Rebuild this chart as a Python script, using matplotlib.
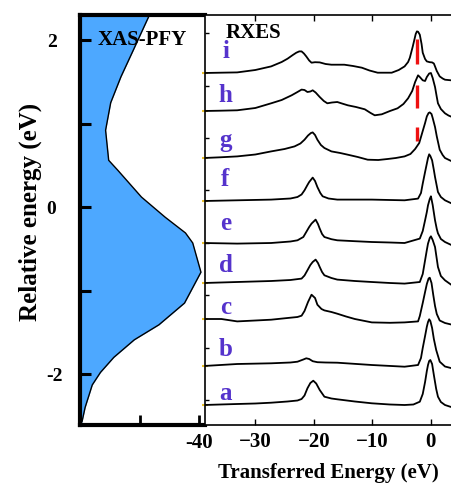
import numpy as np
import matplotlib
matplotlib.use("Agg")
import matplotlib.pyplot as plt
from matplotlib.ticker import FixedLocator, NullFormatter

plt.rcParams['font.family'] = ['Liberation Serif', 'DejaVu Serif']
plt.rcParams['font.weight'] = 'bold'

# ---- XAS-PFY profile (relative energy in eV vs. normalised yield) ----
pfy_energy = [2.40, 2.30, 2.28, 1.88, 1.56, 1.25, 0.92, 0.56, 0.44, 0.12, -0.12,
              -0.31, -0.43, -0.78, -1.15, -1.41, -1.59, -1.80, -1.98, -2.13,
              -2.40, -2.57, -2.61]
pfy_yield = [0.62, 0.577, 0.577, 0.448, 0.344, 0.258, 0.215, 0.241, 0.318, 0.516,
             0.714, 0.886, 0.947, 1.016, 0.878, 0.663, 0.456, 0.284, 0.172,
             0.103, 0.043, 0.017, 0.0]

# ---- RXES spectra (transferred energy in eV, intensity in a.u.) ----
e_a = [-38.8, -36, -33.1, -30, -27.3, -24.5, -22.8, -22.1, -21.6, -21.1, -20.6,
       -20.1, -19.6, -19.0, -18.2, -17.0, -16.0, -13, -10.1, -7, -4.5, -3, -1.9,
       -1.4, -1.0, -0.7, -0.5, -0.3, -0.1, 0.2, 0.5, 0.9, 1.2, 1.7, 2.4, 3.6]
i_a = [0, 0.5, 1.0, 1.5, 2.3, 3.5, 4.5, 6.0, 9.5, 16.7, 22.0, 24.3, 21.5, 15.0,
       8.3, 6.5, 5.7, 3.5, 1.7, 0.5, 0, 0.5, 3.3, 11, 23, 34, 40, 44, 45, 41, 30,
       16, 8.3, 3, 0, -2.3]

e_b = [-38.8, -33.1, -27.3, -24, -22.8, -21.8, -21.3, -20.8, -20.2, -19.4, -18,
       -16.0, -10.1, -4.5, -2.2, -1.7, -1.4, -1.0, -0.7, -0.5, -0.3, -0.1, 0.2,
       0.5, 0.9, 1.5, 2.4, 3.6]
i_b = [0, 2.0, 2.7, 3.5, 4.3, 6.5, 7.7, 7.0, 4.8, 3.8, 3.5, 3.3, 1.0, -0.7, 1.0,
       8, 18, 30, 39.3, 44, 46.7, 45, 38, 27, 16.0, 4.3, -0.5, -2.3]

e_c = [-38.8, -35.8, -33.1, -30, -27.3, -24.5, -22.8, -22.1, -21.6, -21.0, -20.4,
       -19.8, -19.4, -18.7, -18.2, -17, -16.0, -14.5, -13.0, -10.1, -7, -4.5,
       -2.2, -1.9, -1.4, -1.0, -0.7, -0.4, -0.2, 0.1, 0.4, 0.7, 1.0, 1.5, 2.4,
       3.6]
i_c = [0, 0, -2.4, -1.5, -0.7, 1.0, 2.0, 3.3, 8, 17, 24.3, 21, 14.3, 10, 8.6, 7,
       5.3, 2.5, 0, -3.4, -3.8, -3.4, -2.4, 3, 16, 27, 35, 40.5, 41.3, 36, 24,
       13, 5, -1.5, -4.0, -5.7]

e_d = [-38.8, -33.1, -27.3, -24, -22.1, -21.6, -21.1, -20.6, -20.2, -19.7, -19.3,
       -19.0, -18.6, -18.2, -17, -16.0, -13, -10.1, -7, -4.5, -1.9, -1.4, -1.0,
       -0.7, -0.5, -0.2, 0.0, 0.3, 0.7, 1.0, 1.2, 1.7, 2.4, 3.6]
i_d = [0, 1.0, 2.0, 3.0, 4.4, 7.5, 12.7, 18, 21.0, 23.4, 20, 16.0, 11, 7.7, 5,
       3.4, 2, 1.0, 0, -0.6, 1.0, 9, 22.7, 33, 39.4, 45, 46.7, 43, 36.0, 24,
       16.0, 7, 2.7, -2.3]

e_e = [-38.8, -33.1, -27.3, -24, -22.8, -21.8, -21.3, -20.8, -20.4, -19.7, -19.3,
       -19.0, -18.6, -18.2, -17, -16.0, -13, -10.1, -7, -4.5, -1.9, -1.4, -1.0,
       -0.7, -0.5, -0.2, 0.0, 0.3, 0.7, 1.0, 1.2, 1.7, 2.4, 3.6]
i_e = [0, -0.6, 0, 1.5, 2.7, 6, 11.0, 16, 19.4, 23.4, 19, 14.4, 9, 6.0, 3.8, 2.7,
       1.8, 1.0, 0.5, 0, 4.4, 12, 22.7, 31, 37.7, 44, 46.7, 38, 22.7, 14, 9.7, 4,
       1.0, -2.3]

e_f = [-38.8, -33.1, -27.3, -24, -22.8, -22.1, -21.6, -21.1, -20.8, -20.2, -19.8,
       -19.4, -18.9, -18.5, -17.5, -16.0, -13, -10.1, -7, -4.5, -2.2, -1.7, -1.4,
       -1.0, -0.7, -0.5, -0.3, -0.1, 0.2, 0.5, 0.7, 1.0, 1.2, 1.7, 2.4, 3.6]
i_f = [0, 0.7, 1.4, 2.5, 4.0, 6.5, 10.7, 16, 19.0, 23.4, 20, 14.0, 8, 4.7, 2.5,
       1.4, 1.4, 1.4, 1.0, 0.7, 2.4, 8, 17.4, 29, 37.4, 43, 46.7, 45, 40.7, 31,
       24.0, 15, 9.0, 4, 0.7, -2.6]

e_g = [-38.8, -36, -33.1, -30, -27.3, -25, -23.3, -22.3, -21.6, -21.0, -20.5,
       -20.2, -19.8, -19.4, -18.8, -18.2, -17.0, -15.5, -14.2, -12.5, -10.8, -9,
       -7.4, -6, -4.5, -3.5, -2.7, -2.0, -1.5, -1.0, -0.7, -0.4, -0.2, 0.1, 0.3,
       0.7, 1.0, 1.5, 2.0, 2.4, 3.6]
i_g = [0, 0.7, 1.6, 3.5, 6.6, 9, 11.6, 14.5, 18.3, 22.5, 25, 25.6, 23, 18.3, 13,
       10.0, 6.6, 5, 3.3, 1, -1.7, -2, -1.0, 0, 1.6, 4, 9.0, 15, 25.0, 35, 41.6,
       45, 45.6, 44, 40.0, 31, 21.6, 8.3, 3, 0, -3.4]

e_h = [-38.8, -36, -33.1, -30, -27.3, -25.5, -23.8, -22.8, -22.1, -21.6, -21.1,
       -20.6, -20.2, -19.7, -19.0, -18.3, -17.7, -16.9, -16.0, -15.2, -14.2,
       -12.8, -11.3, -10.3, -9.6, -8.4, -7, -5.7, -4.7, -3.9, -3.2, -2.7, -2.4,
       -2.2, -1.9, -1.4, -1.0, -0.7, -0.3, 0.0, 0.3, 0.7, 1.0, 1.2, 1.7, 2.4,
       3.0, 3.6]
i_h = [0, 0.3, 0.7, 3, 7.7, 11, 15.7, 19, 21.4, 21, 19.0, 19.5, 20.7, 18.5, 14.0,
       10, 7.7, 8.5, 9.0, 7.5, 5.7, 4, 1.7, -2.0, -4.3, -3.3, 0, 2.7, 7, 12.7,
       20, 29.0, 33, 35.7, 34, 30.7, 30, 34.0, 37.5, 38.0, 33, 24.0, 14, 7.7, 2,
       -2.3, -4.5, -6.0]

e_i = [-38.8, -36, -33.1, -30, -27.3, -25.5, -24.5, -23.6, -23.0, -22.5, -22.1,
       -21.7, -21.3, -20.8, -20.4, -19.8, -19.0, -18, -17.0, -14.8, -13.3, -11.8,
       -10.5, -9.1, -6.7, -5.5, -4.5, -3.9, -3.6, -3.1, -2.8, -2.6, -2.4, -2.2,
       -1.9, -1.6, -1.4, -1.0, -0.7, -0.2, 0.2, 0.5, 0.7, 1.0, 1.5, 2.0, 2.4, 3.6]
i_i = [0, 0.3, 0.6, 3, 6.6, 11, 14.3, 18, 20.3, 21.6, 21.6, 19.5, 16.6, 12.5,
       10.3, 10.8, 10.6, 9, 8.3, 8.3, 7, 5.3, 2.5, 0.3, 0.3, 3, 6.6, 11, 15.3,
       26.6, 34, 39, 41.6, 41.3, 38.3, 29, 20.3, 14, 11.6, 10.8, 10.6, 9.5, 6.6,
       2, -3.4, -5.5, -6.7, -7.4]

spectrum_labels = ['a', 'b', 'c', 'd', 'e', 'f', 'g', 'h', 'i']
spectrum_offsets = [20, 59, 106, 142, 182, 224, 267, 314, 352]
spectra = [(e_a, i_a), (e_b, i_b), (e_c, i_c), (e_d, i_d), (e_e, i_e),
           (e_f, i_f), (e_g, i_g), (e_h, i_h), (e_i, i_i)]

# red markers at the low-energy feature in spectra g, h, i
marker_energy = -2.4
marker_labels = ['g', 'h', 'i']
marker_ranges = [(17, 31), (3, 26), (9, 34)]

label_color = '#5533cc'
fill_color = '#4da8ff'

W, H = 452, 483
fig = plt.figure(figsize=(W / 100, H / 100), dpi=100)

top_px, bot_px = 15, 425
ax_l = fig.add_axes([80 / W, 1 - bot_px / H, 125 / W, (bot_px - top_px) / H])
ax_r = fig.add_axes([205 / W, 1 - bot_px / H, (W - 205) / W, (bot_px - top_px) / H])

# ---- left panel: XAS-PFY ----
ax_l.fill_betweenx(pfy_energy, 0, pfy_yield, color=fill_color, lw=0)
ax_l.plot(pfy_yield, pfy_energy, color='black', lw=1.0)
ax_l.set_xlim(0, 1.05)
ax_l.set_ylim(-2.61, 2.30)
ax_l.yaxis.set_major_locator(FixedLocator([-2, -1, 0, 1, 2]))
ax_l.set_yticklabels(['-2', '', '0', '', '2'])
ax_l.xaxis.set_major_locator(FixedLocator([0.5, 1.0]))
ax_l.set_xticklabels(['', '-40'])
ax_l.tick_params(axis='y', direction='in', length=8, width=2.2, pad=24,
                 labelsize=14)
ax_l.tick_params(axis='x', direction='in', length=7, width=2, pad=6,
                 labelsize=15)
for lab in ax_l.get_yticklabels():
    lab.set_horizontalalignment('left')
for side in ['left', 'top', 'bottom']:
    ax_l.spines[side].set_linewidth(3)
ax_l.spines['right'].set_visible(False)
ax_l.text(0.15, 2.0, 'XAS-PFY', fontsize=15, fontweight='bold', va='center',
          ha='left')
ax_l.set_ylabel('Relative energy (eV)', fontsize=18, fontweight='bold')
ax_l.yaxis.set_label_coords(-0.30, 0.52)

# ---- right panel: RXES ----
for (en, inten), off in zip(spectra, spectrum_offsets):
    ax_r.plot(en, np.asarray(inten) + off, color='black', lw=1.3,
              solid_joinstyle='round')

letter_dy = [12, 16, 12, 18, 20, 22, 17, 15, 21]
for lab, off, dy in zip(spectrum_labels, spectrum_offsets, letter_dy):
    ax_r.text(-35.1, off + dy, lab, color=label_color, fontsize=18,
              fontweight='bold', ha='center', va='center')

for lab, (y0, y1) in zip(marker_labels, marker_ranges):
    off = spectrum_offsets[spectrum_labels.index(lab)]
    ax_r.plot([marker_energy, marker_energy], [off + y0, off + y1],
              color='#ee1111', lw=2.4, solid_capstyle='butt')

ax_r.text(-35.0, 392, 'RXES', fontsize=15, fontweight='bold', ha='left',
          va='center')

ax_r.set_xlim(-38.6, 3.6)
ax_r.set_ylim(0, 410)
ax_r.xaxis.set_major_locator(FixedLocator([-30, -20, -10, 0]))
ax_r.tick_params(axis='x', direction='in', length=4, width=1, top=True,
                 labelsize=15, pad=5)
ax_r.yaxis.set_major_locator(FixedLocator(np.arange(25, 410, 52.4)))
ax_r.yaxis.set_major_formatter(NullFormatter())
ax_r.yaxis.set_minor_locator(FixedLocator(spectrum_offsets))
ax_r.tick_params(axis='y', which='major', direction='in', length=3, width=1)
ax_r.tick_params(axis='y', which='minor', direction='inout', length=4, width=1.5,
                 color='#e8c030')
ax_r.spines['right'].set_visible(False)
for side in ['left', 'top', 'bottom']:
    ax_r.spines[side].set_linewidth(1.2)
ax_r.set_xlabel('Transferred Energy (eV)', fontsize=15, fontweight='bold',
                labelpad=8)

fig.savefig('out.png', dpi=100, facecolor='white')
